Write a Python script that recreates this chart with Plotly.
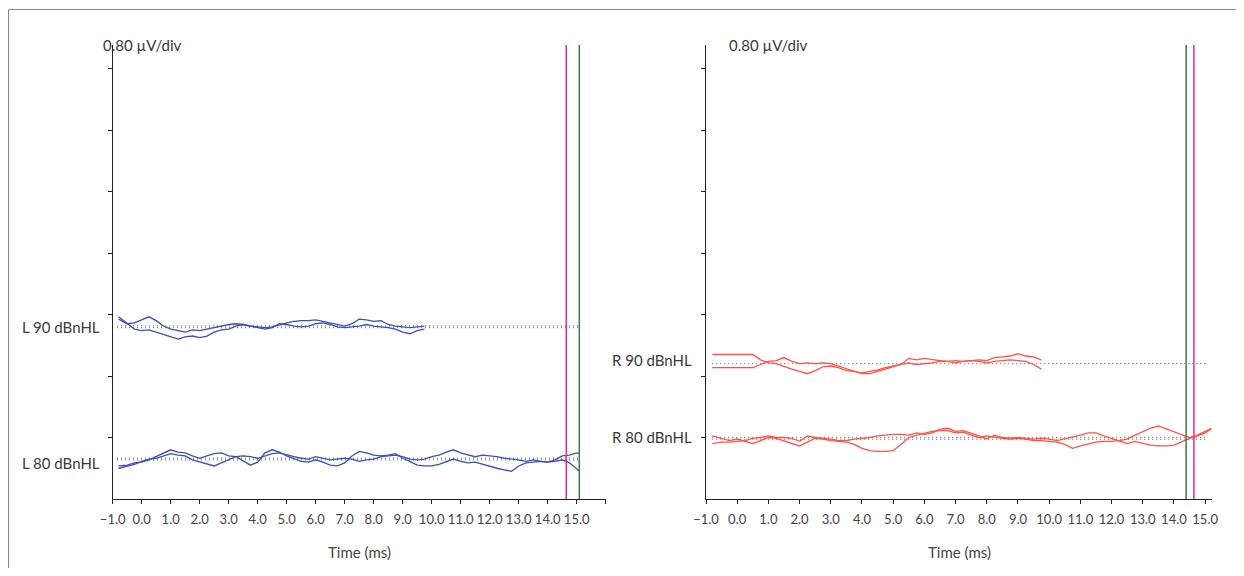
import plotly.graph_objects as go

# page is rendered with an 8px body margin: figure fills the rest of the 1244x576 window
OFF = 8
W, H = 1244 - 2 * OFF, 576 - 2 * OFF
FONT = "Lato"
TXT = "#3a3a3a"

# ---------------- data ----------------
# sample times (ms)
t_short = [-0.8, -0.5, -0.25] + [i * 0.25 for i in range(40)]            # -> 9.75
t_long_L = [-0.8, -0.5, -0.25] + [i * 0.25 for i in range(61)] + [15.1]  # -> 15.1
t_long_R = [-0.8, -0.5, -0.25] + [i * 0.25 for i in range(61)] + [15.2]  # -> 15.2

# baselines (µV, 0.80 µV/div)
base_L90, base_L80 = 2.24, 0.52
base_R90, base_R80 = 1.76, 0.79

# waveform deviations from baseline (µV)
L90_a = [0.10, 0.04, 0.05, 0.09, 0.13, 0.08, 0.01, -0.03, -0.05, -0.07, -0.04,
         -0.05, -0.03, -0.01, 0.01, 0.03, 0.04, 0.03, 0.01, 0.0, -0.01, 0.0, 0.03,
         0.05, 0.07, 0.08, 0.08, 0.09, 0.07, 0.05, 0.03, 0.01, 0.04, 0.10, 0.09,
         0.07, 0.08, 0.03, 0.01, 0.0, -0.01, 0.0, 0.01]
L90_b = [0.13, 0.04, -0.03, -0.05, -0.04, -0.07, -0.10, -0.14, -0.16, -0.13, -0.12,
         -0.14, -0.12, -0.07, -0.04, -0.03, 0.01, 0.03, 0.01, -0.01, -0.03, -0.01, 0.04,
         0.03, 0.01, 0.0, 0.01, 0.04, 0.05, 0.03, 0.0, -0.01, 0.0, 0.01, 0.03,
         0.01, 0.0, -0.01, -0.03, -0.07, -0.09, -0.05, -0.03]
L80_a = [-0.09, -0.08, -0.05, -0.04, -0.01, 0.03, 0.07, 0.12, 0.09, 0.08, 0.04,
         0.01, 0.04, 0.07, 0.08, 0.04, 0.03, -0.03, -0.08, -0.04, 0.08, 0.12, 0.09,
         0.04, 0.0, -0.03, -0.04, -0.01, -0.04, -0.08, -0.09, -0.05, 0.04, 0.10, 0.08,
         0.05, 0.04, 0.05, 0.07, 0.01, -0.03, -0.08, -0.09, -0.09, -0.07, -0.03, 0.0,
         -0.03, -0.05, -0.04, -0.07, -0.09, -0.12, -0.14, -0.16, -0.09, -0.05, -0.04, -0.03,
         -0.04, -0.01, 0.04, 0.05, 0.08, 0.07]
L80_b = [-0.12, -0.09, -0.07, -0.03, 0.0, 0.01, 0.04, 0.07, 0.05, 0.04, -0.01,
         -0.04, -0.07, -0.09, -0.05, -0.01, 0.03, 0.04, 0.03, 0.01, 0.04, 0.07, 0.08,
         0.05, 0.03, 0.01, 0.0, 0.03, 0.01, -0.01, 0.0, 0.01, 0.0, -0.03, -0.01,
         0.0, 0.03, 0.04, 0.05, 0.03, 0.0, -0.01, 0.0, 0.03, 0.05, 0.09, 0.12,
         0.08, 0.05, 0.03, 0.05, 0.04, 0.03, 0.01, 0.0, -0.01, -0.03, -0.01, -0.03,
         -0.04, -0.03, -0.01, -0.05, -0.13, -0.16]
R90_a = [0.12, 0.12, 0.12, 0.12, 0.12, 0.12, 0.05, 0.01, 0.0, -0.04, -0.07,
         -0.10, -0.13, -0.09, -0.04, -0.03, -0.05, -0.09, -0.10, -0.13, -0.13, -0.10, -0.07,
         -0.04, -0.01, 0.07, 0.05, 0.07, 0.05, 0.04, 0.03, 0.04, 0.03, 0.04, 0.05,
         0.04, 0.08, 0.09, 0.10, 0.13, 0.10, 0.09, 0.05]
R90_b = [-0.05, -0.05, -0.05, -0.05, -0.05, -0.05, -0.01, 0.03, 0.04, 0.08, 0.03,
         0.0, 0.01, 0.0, 0.01, 0.0, -0.03, -0.07, -0.10, -0.12, -0.10, -0.08, -0.05,
         -0.03, -0.01, 0.01, -0.01, 0.0, 0.01, 0.03, 0.03, 0.01, 0.03, 0.04, 0.03,
         0.01, 0.03, 0.04, 0.05, 0.04, 0.03, -0.01, -0.07]
R80_a = [0.03, 0.0, -0.03, -0.01, -0.04, -0.07, -0.03, 0.01, 0.0, -0.03, -0.07,
         -0.10, -0.05, 0.0, -0.01, -0.03, -0.04, -0.05, -0.08, -0.13, -0.16, -0.17, -0.17,
         -0.16, -0.08, 0.01, 0.04, 0.07, 0.09, 0.10, 0.10, 0.07, 0.08, 0.04, 0.01,
         0.03, 0.01, 0.0, -0.01, 0.0, -0.01, -0.03, -0.03, -0.04, -0.05, -0.08, -0.13,
         -0.10, -0.07, -0.05, -0.04, -0.04, -0.03, -0.01, 0.04, 0.09, 0.13, 0.16, 0.12,
         0.08, 0.05, 0.01, 0.03, 0.07, 0.12]
R80_b = [-0.07, -0.05, -0.05, -0.04, -0.03, 0.0, 0.01, 0.03, 0.01, 0.01, 0.0,
         -0.04, 0.03, 0.01, 0.0, -0.01, -0.03, -0.03, -0.01, 0.0, 0.01, 0.03, 0.04,
         0.05, 0.05, 0.04, 0.07, 0.05, 0.07, 0.12, 0.13, 0.09, 0.10, 0.07, 0.03,
         -0.01, 0.04, 0.01, 0.0, 0.01, 0.0, -0.01, 0.0, -0.01, -0.03, -0.01, 0.01,
         0.04, 0.07, 0.07, 0.03, 0.0, -0.03, -0.07, -0.04, -0.07, -0.09, -0.10, -0.10,
         -0.09, -0.05, -0.01, 0.04, 0.09, 0.13]

# latency cursors (ms)
left_cursors = {"magenta": 14.64, "green": 15.09}
right_cursors = {"green": 14.39, "magenta": 14.64}

# axes
x_ticks_L = list(range(-1, 17))
x_ticks_R = list(range(-1, 16))
y_top = 5.906
y_ticks = [0.8, 1.6, 2.4, 3.2, 4.0, 4.8, 5.6]
div_label = "0.80 µV/div"

BLUE = "#3e50b4"
RED = "#ff5247"
MAGENTA = "#f0288c"
GREEN = "#3c7a45"


def fmt(v):
    s = f"{abs(v):.1f}"
    return ("−" + s) if v < 0 else s


fig = go.Figure()


def add_trace(t, dev, base, color, xa, ya):
    fig.add_trace(go.Scatter(x=t, y=[base + d for d in dev], mode="lines",
                             line=dict(color=color, width=1.3),
                             xaxis=xa, yaxis=ya, hoverinfo="skip", showlegend=False))


def add_base(x0, x1, base, xa, ya, double=True):
    offs = [-0.012, 0.012] if double else [0.0]
    for o in offs:
        fig.add_trace(go.Scatter(x=[x0, x1], y=[base + o, base + o], mode="lines",
                                 line=dict(color="#555555", width=1, dash="1px,3px"),
                                 xaxis=xa, yaxis=ya, hoverinfo="skip", showlegend=False))


def add_cursor(xv, color, xa, ya):
    fig.add_trace(go.Scatter(x=[xv, xv], y=[0, y_top], mode="lines",
                             line=dict(color=color, width=1.5),
                             xaxis=xa, yaxis=ya, hoverinfo="skip", showlegend=False))


# left panel
add_base(-0.85, 15.1, base_L90, "x", "y")
add_base(-0.85, 15.1, base_L80, "x", "y")
add_trace(t_short, L90_a, base_L90, BLUE, "x", "y")
add_trace(t_short, L90_b, base_L90, BLUE, "x", "y")
add_trace(t_long_L, L80_a, base_L80, BLUE, "x", "y")
add_trace(t_long_L, L80_b, base_L80, BLUE, "x", "y")
for c, v in left_cursors.items():
    add_cursor(v, MAGENTA if c == "magenta" else GREEN, "x", "y")

# right panel
add_base(-0.8, 15.1, base_R90, "x2", "y2", double=False)
add_base(-0.8, 15.1, base_R80, "x2", "y2")
add_trace(t_short, R90_a, base_R90, RED, "x2", "y2")
add_trace(t_short, R90_b, base_R90, RED, "x2", "y2")
add_trace(t_long_R, R80_a, base_R80, RED, "x2", "y2")
add_trace(t_long_R, R80_b, base_R80, RED, "x2", "y2")
for c, v in right_cursors.items():
    add_cursor(v, MAGENTA if c == "magenta" else GREEN, "x2", "y2")


def px_x(p):
    return (p - OFF) / W


def px_y(p):
    return 1 - (p - OFF) / H


axis_common = dict(showline=True, linecolor="#222222", linewidth=1.2, ticks="outside",
                   ticklen=4, tickcolor="#222222", tickwidth=1, showgrid=False,
                   zeroline=False, fixedrange=True, automargin=False)

fig.update_layout(
    width=W, height=H, margin=dict(l=0, r=0, t=0, b=0, autoexpand=False),
    paper_bgcolor="white", plot_bgcolor="white",
    font=dict(family=FONT, color=TXT),
    xaxis=dict(domain=[px_x(112.7), px_x(605.7)], range=[-1, 16], anchor="y",
               tickvals=x_ticks_L, ticktext=[fmt(v) if v <= 15 else "" for v in x_ticks_L],
               tickfont=dict(size=13, color="#444"), ticklabelstandoff=4, **axis_common),
    yaxis=dict(domain=[px_y(499), px_y(45)], range=[0, y_top], anchor="x",
               tickvals=y_ticks, showticklabels=False, **axis_common),
    xaxis2=dict(domain=[px_x(706), px_x(1212)], range=[-1, 15.22], anchor="y2",
                tickvals=x_ticks_R, ticktext=[fmt(v) for v in x_ticks_R],
                tickfont=dict(size=13, color="#444"), ticklabelstandoff=4, **axis_common),
    yaxis2=dict(domain=[px_y(499), px_y(45)], range=[0, y_top], anchor="x2",
                tickvals=y_ticks, showticklabels=False, **axis_common),
)

ann = []
# µV/div labels
ann.append(dict(text=div_label, xref="paper", yref="paper", x=px_x(101), y=px_y(45),
                xanchor="left", yanchor="middle", showarrow=False, font=dict(size=15)))
ann.append(dict(text=div_label, xref="paper", yref="paper", x=px_x(727), y=px_y(45),
                xanchor="left", yanchor="middle", showarrow=False, font=dict(size=15)))
# intensity labels
for txt, base, yr, xr, ys in [("L 90 dBnHL", base_L90, "y", 102, 0),
                              ("L 80 dBnHL", base_L80, "y", 102, -4),
                              ("R 90 dBnHL", base_R90, "y2", 694, 4),
                              ("R 80 dBnHL", base_R80, "y2", 694, 1)]:
    ann.append(dict(text=txt, xref="paper", yref=yr, x=px_x(xr), y=base, yshift=ys,
                    xanchor="right", yanchor="middle", showarrow=False,
                    font=dict(size=15)))
# axis titles
for cx in (359, 959):
    ann.append(dict(text="Time (ms)", xref="paper", yref="paper", x=px_x(cx), y=px_y(552),
                    xanchor="center", yanchor="middle", showarrow=False,
                    font=dict(size=15, color="#444")))
fig.update_layout(annotations=ann)

# outer frame: top and left edges only, kept inside the figure
fig.add_shape(type="line", xref="paper", yref="paper", x0=0.5 / W, x1=1,
              y0=px_y(9.5), y1=px_y(9.5), line=dict(color="#8a8a8a", width=1.2))
fig.add_shape(type="line", xref="paper", yref="paper", x0=0.5 / W, x1=0.5 / W,
              y0=0, y1=px_y(9.5), line=dict(color="#8a8a8a", width=1.2))

fig.write_html("out.html")
